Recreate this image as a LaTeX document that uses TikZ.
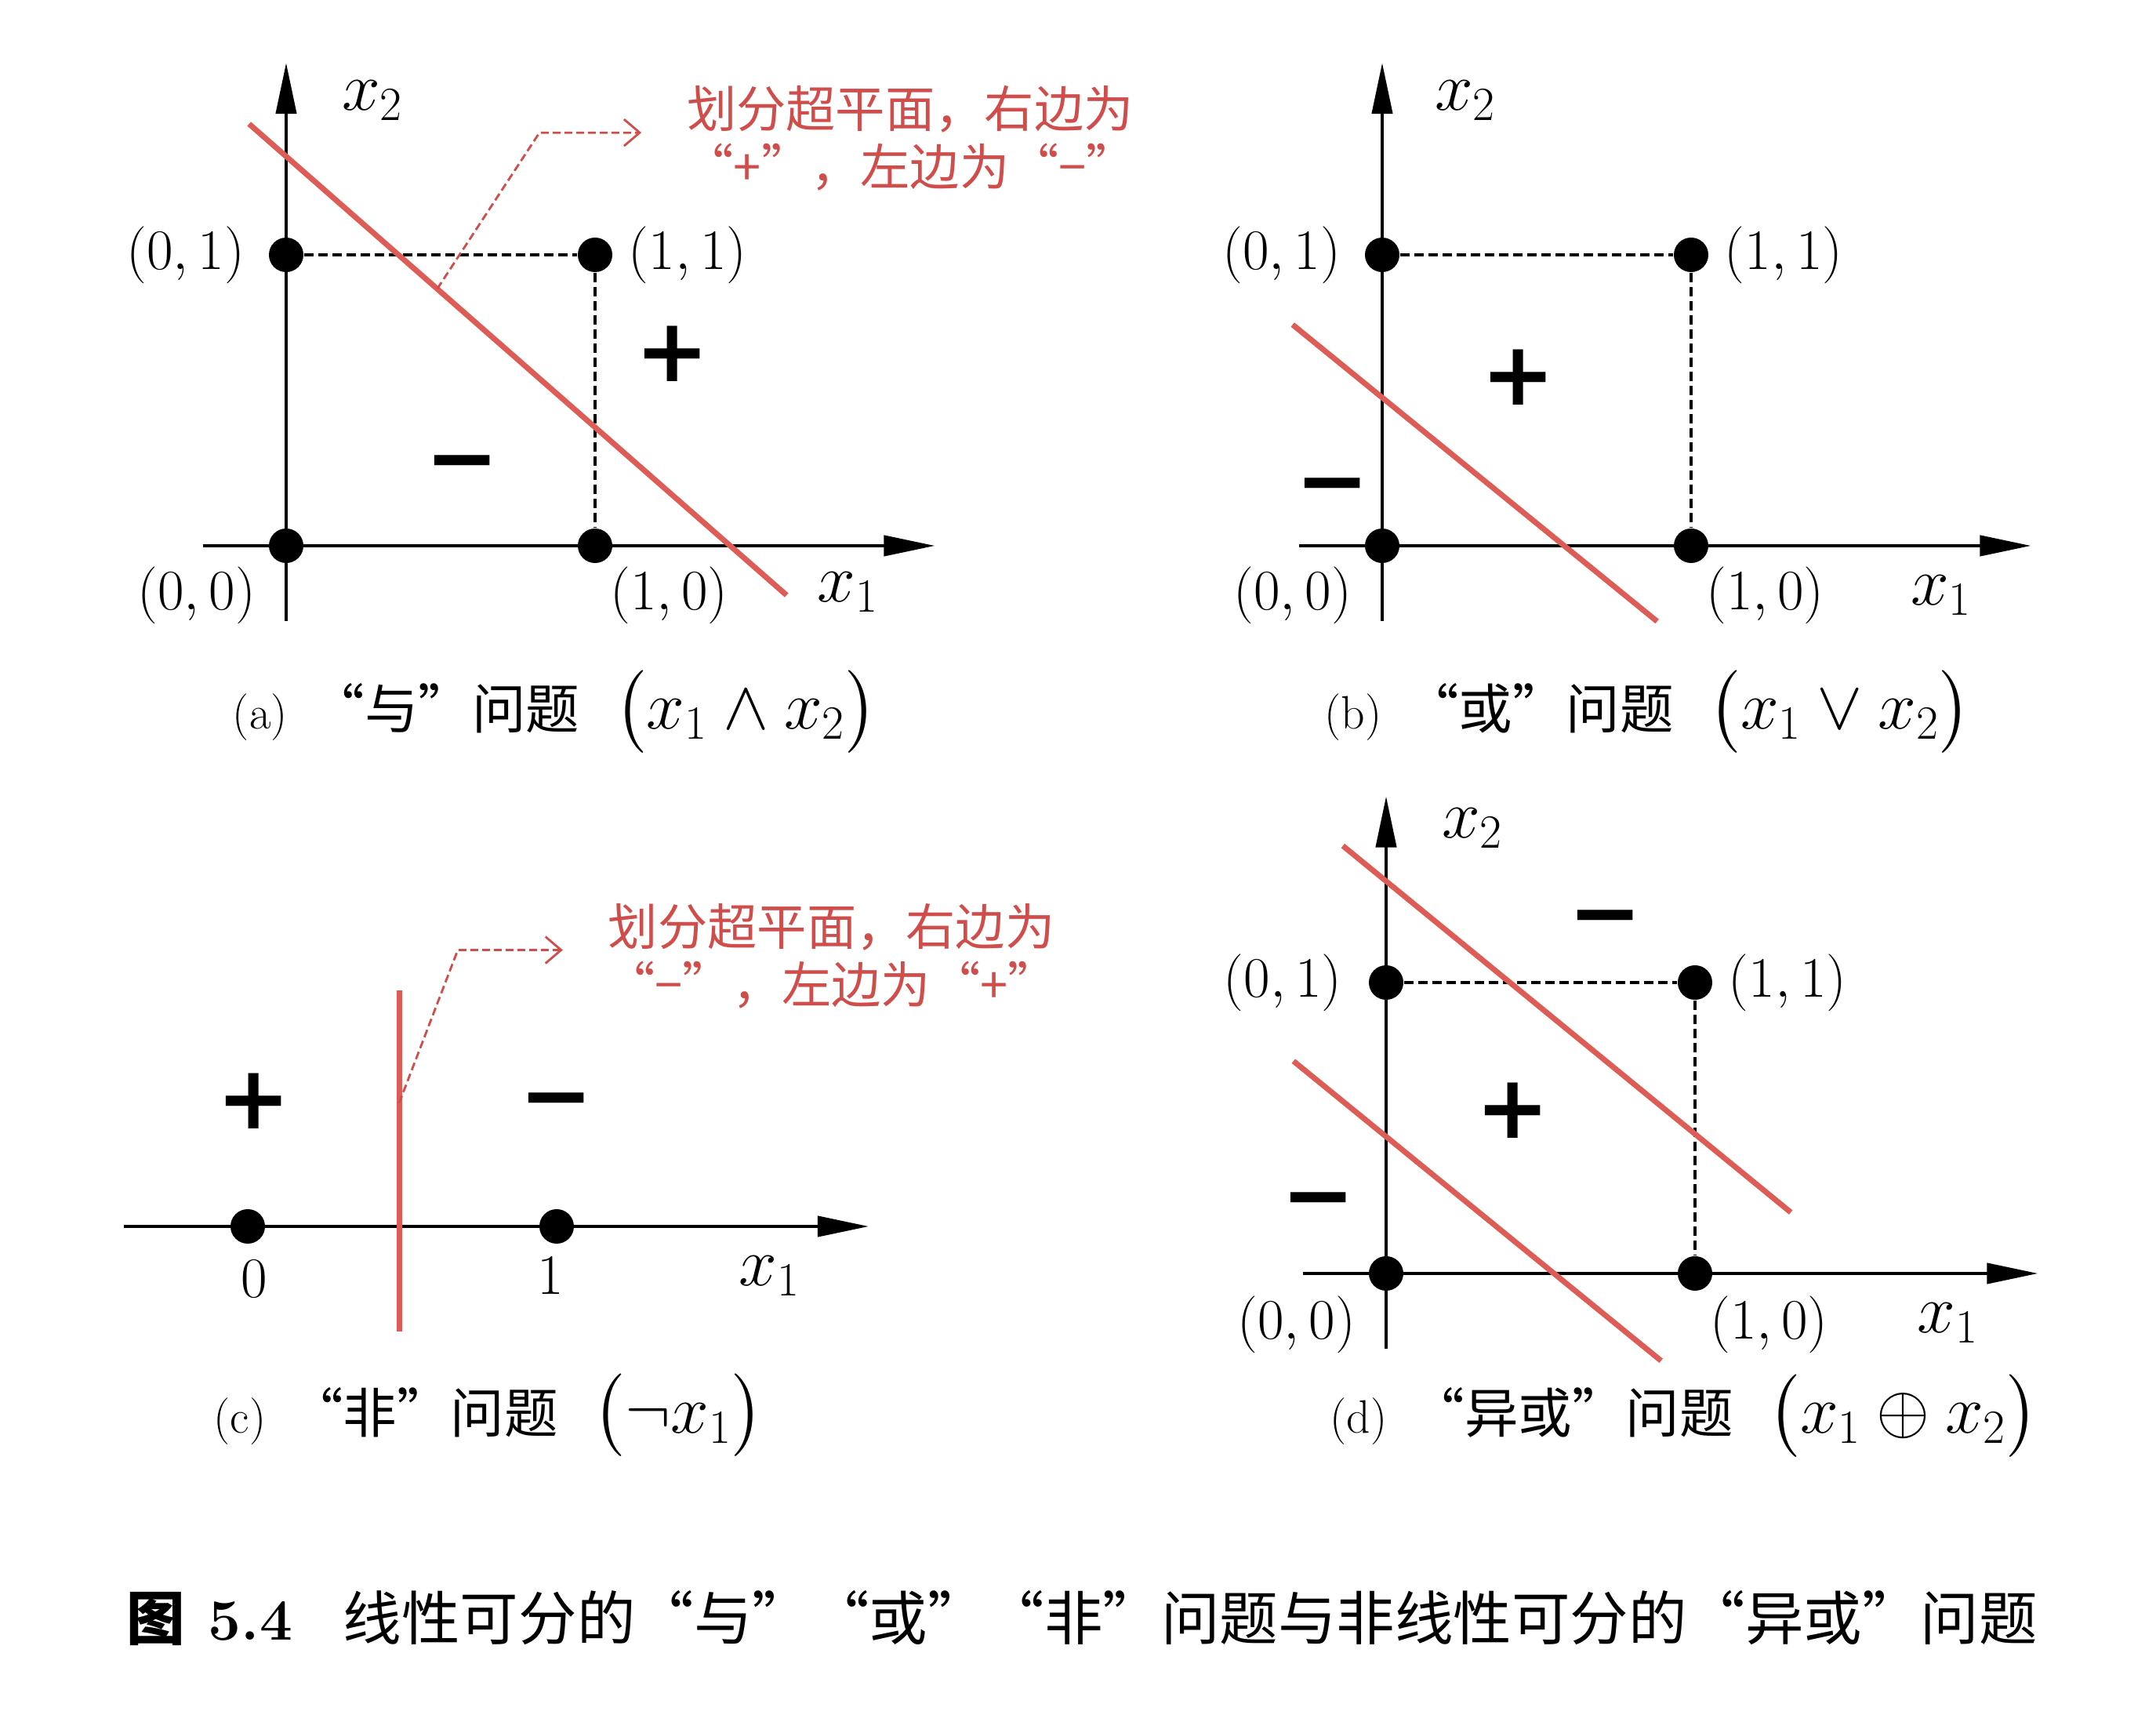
\documentclass[tikz,border=0pt]{standalone}
\usepackage{amsmath,amssymb}
\usepackage{fontspec}
\newfontfamily\cjk{Noto Sans CJK SC}
\newfontfamily\signfont{DejaVu Sans}
\usetikzlibrary{arrows.meta, calc}
\definecolor{cutred}{HTML}{DE5C56}
\definecolor{notered}{HTML}{CF4E4C}

\begin{document}
\begin{tikzpicture}[
  axis/.style={line width=1.2pt, -{Triangle[length=6.5mm, width=2.6mm]}},
  pt/.style={circle, fill=black, inner sep=0pt, minimum size=4.4mm},
  guide/.style={line width=0.9pt, dash pattern=on 1.2mm off 0.6mm},
  cut/.style={cutred, line width=2pt},
  pointer/.style={notered, line width=0.8pt, dash pattern=on 1mm off 0.5mm,
                  -{Straight Barb[length=2mm, width=3.4mm]}},
  lbl/.style={font=\fontsize{22}{26}\selectfont, inner sep=0pt},
  axlbl/.style={font=\fontsize{25}{30}\selectfont, inner sep=0pt},
  sign/.style={font=\signfont\bfseries\fontsize{32}{32}\selectfont, inner sep=0pt},
  note/.style={text=notered, font=\cjk\fontsize{18}{21}\selectfont, align=center, inner sep=0pt},
  subcap/.style={font=\fontsize{17}{21}\selectfont, inner sep=0pt}
]
\useasboundingbox (0,0) rectangle (27.50,21.96);

% (a) AND
\begin{scope}[shift={(3.65,15.00)}, x=3.94cm, y=3.71cm]
  \coordinate (aXfrom) at (-0.27,0);
  \coordinate (aXto)   at (2.10,0);
  \coordinate (aYfrom) at (0,-0.26);
  \coordinate (aYto)   at (0,1.66);
  \draw[axis] (aXfrom) -- (aXto);
  \draw[axis] (aYfrom) -- (aYto);
  \node[pt] (a00) at (0,0) {};
  \node[pt] (a10) at (1,0) {};
  \node[pt] (a01) at (0,1) {};
  \node[pt] (a11) at (1,1) {};
  \draw[guide] (a01) -- (a11) -- (a10);
  \coordinate (aCutS) at (-0.12,1.45);
  \coordinate (aCutE) at (1.62,-0.17);
  \draw[cut] (aCutS) -- (aCutE);
  \coordinate (aHit)  at ($(aCutS)!0.35!(aCutE)$);
  \coordinate (aKnee) at (0.82,1.42);
  \coordinate (aTip)  at (1.15,1.42);
  \draw[pointer] (aHit) -- (aKnee) -- (aTip);
  \node[note] (aNote) at (2.02,1.40) {划分超平面，右边为\\“+”，左边为“−”};
  \node[lbl] (a01l) at (-0.325,1)    {$(0,1)$};
  \node[lbl] (a11l) at (1.30,1)      {$(1,1)$};
  \node[lbl] (a00l) at (-0.29,-0.17) {$(0,0)$};
  \node[lbl] (a10l) at (1.24,-0.17)  {$(1,0)$};
  \node[axlbl] (aX2) at (0.28,1.53)  {$x_2$};
  \node[axlbl] (aX1) at (1.82,-0.16) {$x_1$};
  \node[sign] (aPlus)  at (1.25,0.66)  {+};
  \node[sign] (aMinus) at (0.57,0.253) {−};
  \node[subcap] (aCap) at (0.87,-0.57)
    {(a)\hspace{0.3cm}{\cjk\fontsize{19.5}{23}\selectfont “与”问题}\hspace{0.45cm}{\fontsize{25}{30}\selectfont$\bigl(x_1\wedge x_2\bigr)$}};
\end{scope}

% (b) OR
\begin{scope}[shift={(17.63,15.00)}, x=3.94cm, y=3.71cm]
  \coordinate (bXfrom) at (-0.27,0);
  \coordinate (bXto)   at (2.10,0);
  \coordinate (bYfrom) at (0,-0.26);
  \coordinate (bYto)   at (0,1.66);
  \draw[axis] (bXfrom) -- (bXto);
  \draw[axis] (bYfrom) -- (bYto);
  \node[pt] (b00) at (0,0) {};
  \node[pt] (b10) at (1,0) {};
  \node[pt] (b01) at (0,1) {};
  \node[pt] (b11) at (1,1) {};
  \draw[guide] (b01) -- (b11) -- (b10);
  \coordinate (bCutS) at (-0.29,0.76);
  \coordinate (bCutE) at (0.89,-0.26);
  \draw[cut] (bCutS) -- (bCutE);
  \node[lbl] (b01l) at (-0.325,1)    {$(0,1)$};
  \node[lbl] (b11l) at (1.30,1)      {$(1,1)$};
  \node[lbl] (b00l) at (-0.29,-0.17) {$(0,0)$};
  \node[lbl] (b10l) at (1.24,-0.17)  {$(1,0)$};
  \node[axlbl] (bX2) at (0.27,1.53)  {$x_2$};
  \node[axlbl] (bX1) at (1.81,-0.17) {$x_1$};
  \node[sign] (bPlus)  at (0.44,0.58)  {+};
  \node[sign] (bMinus) at (-0.16,0.175) {−};
  \node[subcap] (bCap) at (0.86,-0.57)
    {(b)\hspace{0.3cm}{\cjk\fontsize{19.5}{23}\selectfont “或”问题}\hspace{0.45cm}{\fontsize{25}{30}\selectfont$\bigl(x_1\vee x_2\bigr)$}};
\end{scope}

% (c) NOT
\begin{scope}[shift={(3.16,6.32)}, x=3.94cm, y=3.71cm]
  \coordinate (cXfrom) at (-0.40,0);
  \coordinate (cXto)   at (2.01,0);
  \draw[axis] (cXfrom) -- (cXto);
  \node[pt] (c0) at (0,0) {};
  \node[pt] (c1) at (1,0) {};
  \coordinate (cCutS) at (0.49,0.81);
  \coordinate (cCutE) at (0.49,-0.36);
  \draw[cut] (cCutS) -- (cCutE);
  \coordinate (cHit)  at ($(cCutS)!0.33!(cCutE)$);
  \coordinate (cKnee) at (0.68,0.95);
  \coordinate (cTip)  at (1.02,0.95);
  \draw[pointer] (cHit) -- (cKnee) -- (cTip);
  \node[note] (cNote) at (1.89,0.93) {划分超平面，右边为\\“−”，左边为“+”};
  \node[lbl] (c0l) at (0.02,-0.18) {$0$};
  \node[lbl] (c1l) at (0.98,-0.17) {$1$};
  \node[axlbl] (cX1) at (1.69,-0.17) {$x_1$};
  \node[sign] (cPlus)  at (0.02,0.43)  {+};
  \node[sign] (cMinus) at (1.00,0.403) {−};
  \node[subcap] (cCap) at (0.78,-0.65)
    {(c)\hspace{0.3cm}{\cjk\fontsize{19.5}{23}\selectfont “非”问题}\hspace{0.45cm}{\fontsize{25}{30}\selectfont$\bigl(\neg x_1\bigr)$}};
\end{scope}

% (d) XOR
\begin{scope}[shift={(17.68,5.72)}, x=3.94cm, y=3.71cm]
  \coordinate (dXfrom) at (-0.27,0);
  \coordinate (dXto)   at (2.11,0);
  \coordinate (dYfrom) at (0,-0.26);
  \coordinate (dYto)   at (0,1.64);
  \draw[axis] (dXfrom) -- (dXto);
  \draw[axis] (dYfrom) -- (dYto);
  \node[pt] (d00) at (0,0) {};
  \node[pt] (d10) at (1,0) {};
  \node[pt] (d01) at (0,1) {};
  \node[pt] (d11) at (1,1) {};
  \draw[guide] (d01) -- (d11) -- (d10);
  \coordinate (dUpS) at (-0.14,1.47);
  \coordinate (dUpE) at (1.31,0.21);
  \coordinate (dLoS) at (-0.30,0.73);
  \coordinate (dLoE) at (0.89,-0.30);
  \draw[cut] (dUpS) -- (dUpE);
  \draw[cut] (dLoS) -- (dLoE);
  \node[lbl] (d01l) at (-0.335,1)     {$(0,1)$};
  \node[lbl] (d11l) at (1.30,1)       {$(1,1)$};
  \node[lbl] (d00l) at (-0.29,-0.175) {$(0,0)$};
  \node[lbl] (d10l) at (1.24,-0.175)  {$(1,0)$};
  \node[axlbl] (dX2) at (0.28,1.53)   {$x_2$};
  \node[axlbl] (dX1) at (1.82,-0.17)  {$x_1$};
  \node[sign] (dMinusUp) at (0.71,1.193)  {−};
  \node[sign] (dPlus)    at (0.41,0.56)   {+};
  \node[sign] (dMinusLo) at (-0.22,0.223) {−};
  \node[subcap] (dCap) at (0.965,-0.49)
    {(d)\hspace{0.3cm}{\cjk\fontsize{19.5}{23}\selectfont “异或”问题}\hspace{0.45cm}{\fontsize{25}{30}\selectfont$\bigl(x_1\oplus x_2\bigr)$}};
\end{scope}

% figure caption
\node[inner sep=0pt, font=\fontsize{21.2}{25}\selectfont] (figCap) at (13.80,1.32)
  {{\cjk\bfseries 图}\hspace{0.3cm}\textbf{5.4}\hspace{0.65cm}{\cjk 线性可分的“与”“或”“非”问题与非线性可分的“异或”问题}};
\end{tikzpicture}
\end{document}
